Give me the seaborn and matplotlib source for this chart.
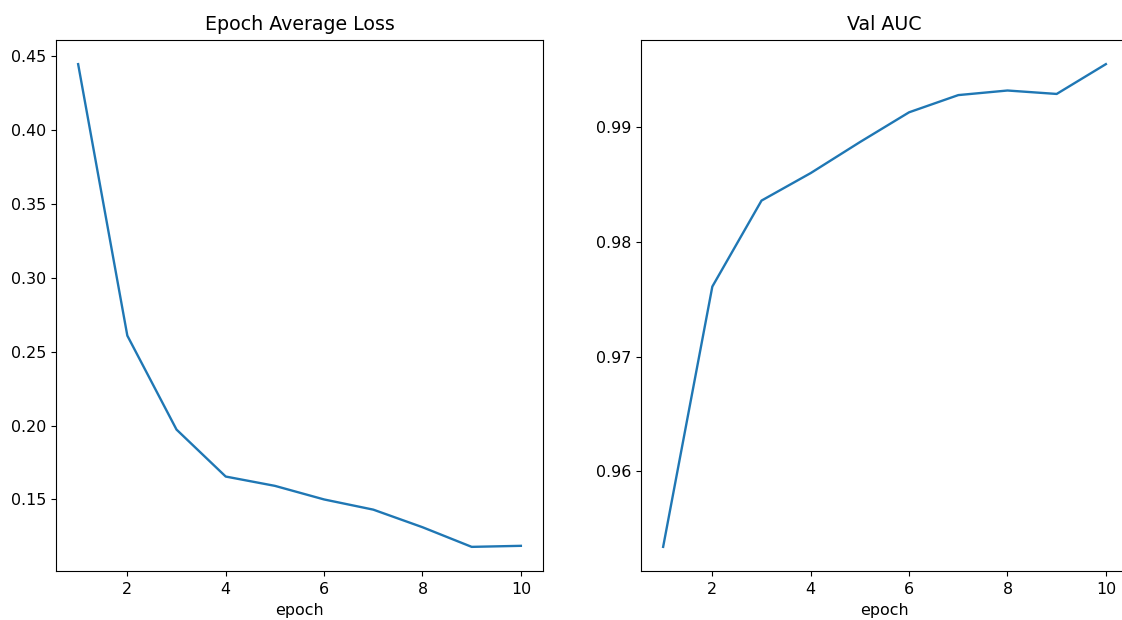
import matplotlib
matplotlib.use("Agg")
import matplotlib.pyplot as plt
import seaborn as sns
import pandas as pd

epochs = [1, 2, 3, 4, 5, 6, 7, 8, 9, 10]
epoch_loss = [0.4447, 0.2609, 0.1973, 0.1655, 0.1592, 0.1500, 0.1431, 0.1312, 0.1179, 0.1186]
val_auc = [0.9534, 0.9761, 0.9836, 0.9860, 0.9887, 0.9913, 0.9928, 0.9932, 0.9929, 0.9955]

df = pd.DataFrame({"epoch": epochs, "loss": epoch_loss, "auc": val_auc})

plt.rcParams["xtick.labelsize"] = 11.4
plt.rcParams["ytick.labelsize"] = 11.4
plt.rcParams["axes.titlesize"] = 13.7
plt.rcParams["axes.labelsize"] = 11.4
plt.rcParams["xtick.major.pad"] = 4.5

fig = plt.figure(figsize=(11.22, 6.2), dpi=100)
W, H = 1122, 620
# right panel runs a little past the image edge, as in the cropped original
ax1 = fig.add_axes([56 / W, 1 - 571 / H, (543 - 56) / W, (571 - 40) / H])
ax2 = fig.add_axes([641 / W, 1 - 571 / H, (1128 - 641) / W, (571 - 40) / H])

# left: training loss
sns.lineplot(data=df, x="epoch", y="loss", ax=ax1, color="#1f77b4", linewidth=1.7)
ax1.set_title("Epoch Average Loss", pad=7)
ax1.set_xlabel("epoch", labelpad=4)
ax1.set_ylabel("")
ax1.set_xticks([2, 4, 6, 8, 10])

# right: validation AUC
sns.lineplot(data=df, x="epoch", y="auc", ax=ax2, color="#1f77b4", linewidth=1.7)
ax2.set_title("Val AUC", pad=7)
ax2.set_xlabel("epoch", labelpad=4)
ax2.set_ylabel("")
ax2.set_xticks([2, 4, 6, 8, 10])

fig.savefig("out.png", dpi=100)
